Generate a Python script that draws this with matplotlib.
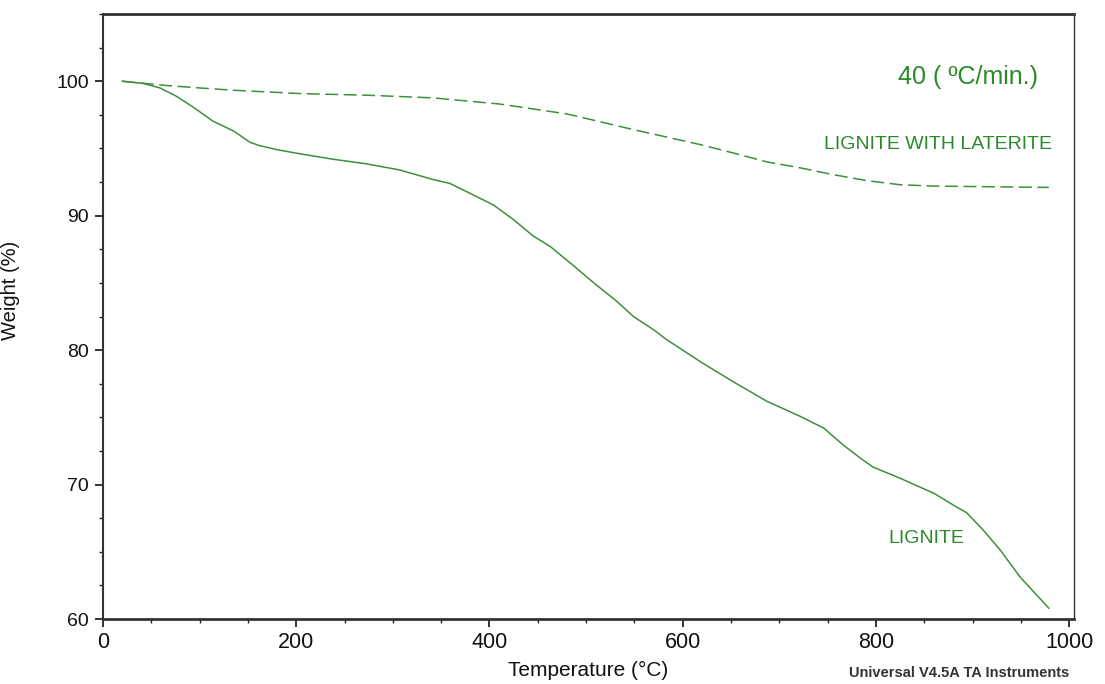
import matplotlib
matplotlib.use("Agg")
import matplotlib.pyplot as plt
from matplotlib.ticker import MultipleLocator

plt.rcParams['font.family'] = ['Liberation Sans', 'DejaVu Sans']

# TGA data (temperature in degC, weight in %)
lignite_temp = [20, 42, 59, 76, 93, 114, 125, 135, 142, 152, 162, 180, 204, 238, 273, 307,
                342, 359, 376, 404, 425, 445, 463, 490, 508, 532, 549, 570, 583, 618,
                652, 687, 722, 746, 766, 784, 797, 825, 860, 880, 894, 911, 929, 949, 979]
lignite_weight = [100.0, 99.83, 99.5, 98.88, 98.09, 97.02, 96.65, 96.3, 95.96, 95.46, 95.21,
                  94.91, 94.6, 94.2, 93.85, 93.4, 92.68, 92.4, 91.8, 90.8, 89.7, 88.5, 87.7,
                  86.1, 85.0, 83.62, 82.5, 81.51, 80.8, 79.15, 77.66, 76.2, 75.06, 74.2,
                  72.95, 71.96, 71.3, 70.47, 69.35, 68.48, 67.9, 66.62, 65.1, 63.14, 60.8]

laterite_temp = [20, 66, 100, 135, 204, 273, 342, 411, 480, 549, 618, 652, 687, 722, 756,
                 791, 825, 860, 979]
laterite_weight = [100.0, 99.68, 99.5, 99.33, 99.08, 98.96, 98.76, 98.3, 97.57, 96.4, 95.29,
                   94.67, 94.0, 93.55, 93.05, 92.6, 92.3, 92.2, 92.1]

x_major = [0, 200, 400, 600, 800, 1000]
y_major = [60, 70, 80, 90, 100]

LINE_GREEN = '#3d8f3d'
TEXT_GREEN = '#2a8a2a'

fig = plt.figure(figsize=(11.05, 6.84), dpi=100)
ax = fig.add_axes([103 / 1105, 1 - 619 / 684, 971 / 1105, 605 / 684])

ax.plot(lignite_temp, lignite_weight, color=LINE_GREEN, linewidth=1.1)
ax.plot(laterite_temp, laterite_weight, color=LINE_GREEN, linewidth=1.1,
        linestyle=(0, (8.5, 3.6)))

ax.set_xlim(0, 1005)
ax.set_ylim(60, 105)
ax.set_xticks(x_major)
ax.set_yticks(y_major)
ax.xaxis.set_minor_locator(MultipleLocator(50))
ax.yaxis.set_minor_locator(MultipleLocator(2.5))
ax.tick_params(which='major', direction='out', length=6, width=1.2, labelsize=14,
               pad=4, colors='#111111')
ax.tick_params(axis='x', which='major', labelsize=15.5, pad=3)
ax.tick_params(which='minor', direction='out', length=3, width=1.0, colors='#222222')
ax.tick_params(top=False, right=False, which='both')

for side, lw in (('top', 2.0), ('bottom', 2.0), ('left', 1.5), ('right', 1.0)):
    ax.spines[side].set_linewidth(lw)
    ax.spines[side].set_color('#333333')

ax.set_xlabel('Temperature (°C)', fontsize=15, labelpad=6, color='#111111')
ax.set_ylabel('Weight (%)', fontsize=14.5, color='#111111')
ax.yaxis.set_label_coords(-0.085, 0.544)

ax.text(968, 100.3, '40 ( \u00baC/min.)', color=TEXT_GREEN, fontsize=18,
        ha='right', va='center')
ax.text(982, 95.3, 'LIGNITE WITH LATERITE', color=TEXT_GREEN, fontsize=14,
        ha='right', va='center')
ax.text(852, 66.0, 'LIGNITE', color=TEXT_GREEN, fontsize=14,
        ha='center', va='center')

fig.text(1069 / 1105, 1 - 673 / 684, 'Universal V4.5A TA Instruments', fontsize=10.5,
         fontweight='bold', color='#333333', ha='right', va='center')

fig.savefig('out.png', dpi=100, facecolor='white')
